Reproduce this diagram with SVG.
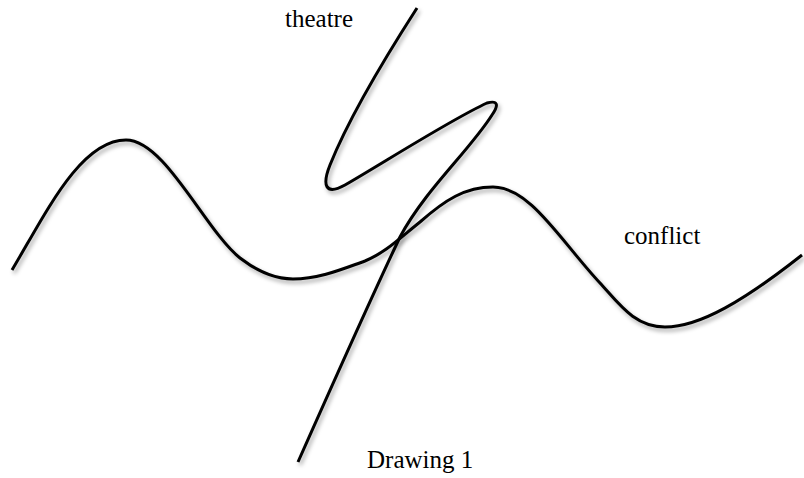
<svg xmlns="http://www.w3.org/2000/svg" width="804" height="478" viewBox="0 0 804 478">
<defs>
<filter id="sh" x="-10%" y="-10%" width="120%" height="130%">
<feDropShadow dx="2" dy="3" stdDeviation="2" flood-color="#000" flood-opacity="0.35"/>
</filter>
<style>
.curve{fill:none;stroke:#000;stroke-width:3;stroke-linecap:butt;filter:url(#sh)}
.lbl{font-family:"Liberation Serif","Times New Roman",serif;font-size:25px;fill:#000}
</style>
</defs>
<rect width="804" height="478" fill="#fff"/>
<g id="connectors">
<g id="conflict-line">
<path class="curve" d="M12,270 C45,215 80,140 126,140 C165,140 205,230 240,258 C258,272 275,279 293,279 C320,279 345,268 365,261 C385,253 400,238 420,222 C445,200 465,187 493,187 C530,187 560,240 600,283 C620,305 635,327 665,327 C700,327 745,300 802,255"/>
</g>
<g id="theatre-line">
<path class="curve" d="M298,462 C330,390 370,300 400,237 C425,190 470,150 492,115 C499,105 498,100 487,103 C450,120 380,165 345,185 C325,196 322,185 330,165 C350,115 390,50 417,8"/>
</g>
</g>
<g id="theatre"><text class="lbl" x="285" y="27">theatre</text></g>
<g id="conflict"><text class="lbl" x="624" y="244">conflict</text></g>
<g id="drawing1"><text class="lbl" x="367" y="468">Drawing 1</text></g>
</svg>
